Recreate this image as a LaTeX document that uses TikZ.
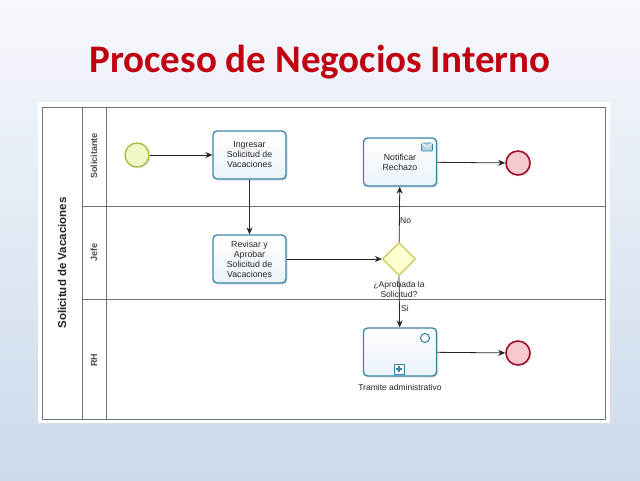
\documentclass[tikz,border=0pt]{standalone}
\usepackage{fontspec}
\setmainfont{Liberation Sans}
\newfontfamily\titlefont{Carlito}
\usetikzlibrary{shapes.geometric,arrows.meta,shadows}
\definecolor{titlered}{HTML}{C00010}
\definecolor{bgtop}{HTML}{F6F8FC}
\definecolor{bgbot}{HTML}{CCDAEB}
\definecolor{taskline}{HTML}{3C84A6}
\definecolor{taskfill}{HTML}{EAF3FA}
\definecolor{startline}{HTML}{A6BE3C}
\definecolor{startfill}{HTML}{F0F6C6}
\definecolor{endline}{HTML}{A0102A}
\definecolor{endfill}{HTML}{F6C9CE}
\definecolor{gwline}{HTML}{C8C85A}
\definecolor{gwfill}{HTML}{FFFFD2}
\definecolor{poolline}{HTML}{707070}
\tikzset{
  tasknode/.style={draw=taskline, line width=1.3pt, rounded corners=4pt, minimum width=73pt, minimum height=48pt,
    inner sep=1pt, align=center, font=\fontsize{8.8}{10}\selectfont, text=black!85,
    top color=white, bottom color=taskfill, drop shadow={shadow xshift=1.5pt, shadow yshift=-1.5pt, opacity=0.25}},
  startev/.style={circle, draw=startline, line width=1.3pt, minimum size=24pt, inner sep=0pt, fill=startfill,
    drop shadow={shadow xshift=1.5pt, shadow yshift=-1.5pt, opacity=0.2}},
  endev/.style={circle, draw=endline, line width=1.6pt, minimum size=24pt, inner sep=0pt, fill=endfill,
    drop shadow={shadow xshift=1.5pt, shadow yshift=-1.5pt, opacity=0.2}},
  gateway/.style={diamond, draw=gwline, line width=1.2pt, minimum size=33pt, inner sep=0pt, fill=gwfill},
  flow/.style={-{Stealth[length=7pt,width=6pt]}, line width=0.8pt, black!85},
  poolrule/.style={draw=poolline, line width=0.9pt},
  lanelabel/.style={rotate=90, font=\bfseries\fontsize{9}{11}\selectfont, text=black!70},
  smalllabel/.style={font=\fontsize{8.5}{10}\selectfont, text=black!85, inner sep=0pt},
}
\begin{document}
\begin{tikzpicture}[x=1pt, y=-1pt]
\useasboundingbox (0,0) rectangle (640,480);
\shade[top color=bgtop, bottom color=bgbot] (0,0) rectangle (640,480);
% title
\node (title) at (320,62) {\titlefont\bfseries\fontsize{39}{44}\selectfont\color{titlered}Proceso de Negocios Interno};
% white canvas
\fill[white] (38,102) rectangle (610,423);
% pool
\draw[poolrule] (42,107) rectangle (605,419);
\draw[poolrule] (82,107) -- (82,419);
\draw[poolrule] (106,107) -- (106,419);
\draw[poolrule] (82,206) -- (605,206);
\draw[poolrule] (82,299) -- (605,299);
\node[rotate=90, font=\bfseries\fontsize{11.5}{13}\selectfont, text=black!85] (pool) at (62,263) {Solicitud de Vacaciones};
\node[lanelabel] (l1) at (94,156) {Solicitante};
\node[lanelabel] (l2) at (94,252) {Jefe};
\node[lanelabel] (l3) at (94,360) {RH};
% nodes
\node[startev] (start) at (137,155) {};
\node[tasknode] (ingresar) at (249.5,155) {Ingresar\\Solicitud de\\Vacaciones};
\node[tasknode] (revisar) at (249.5,259) {Revisar y\\Aprobar\\Solicitud de\\Vacaciones};
\node[gateway] (gw) at (399,259) {};
\node[tasknode] (notificar) at (400,162) {Notificar\\Rechazo};
\node[tasknode] (tramite) at (400,352) {};
\node[endev] (end1) at (518,163) {};
\node[endev] (end2) at (518,353) {};
% icons
\node[draw=taskline, fill=taskline!35, line width=0.9pt, minimum width=11pt, minimum height=8pt, inner sep=0pt, rounded corners=1pt] (env) at (427,147) {};
\draw[white, line width=0.8pt] (env.north west) -- (env.center) -- (env.north east);
\node[circle, draw=taskline, line width=1.1pt, fill=white, minimum size=9pt, inner sep=0pt] (ring) at (425,338) {};
\node[draw=taskline, line width=0.9pt, fill=white, minimum size=10pt, inner sep=0pt] (plus) at (399,369) {};
\draw[taskline, line width=1.4pt] ([xshift=-3pt]plus.center) -- ([xshift=3pt]plus.center);
\draw[taskline, line width=1.4pt] ([yshift=-3pt]plus.center) -- ([yshift=3pt]plus.center);
% labels
\node[smalllabel] (tramlbl) at (400,387) {Tramite administrativo};
\node[smalllabel, align=center] (gwlbl) at (399,289) {¿Aprobada la\\Solicitud?};
% flows
\draw[flow] (start) -- (ingresar);
\draw[flow] (ingresar) -- (revisar);
\draw[flow] (revisar) -- (gw);
\draw[flow] (gw) -- (notificar);
\draw[flow] (gw.south) -- (tramite);
\draw[flow] (notificar) -- (end1);
\draw[flow] (tramite) -- (end2);
\node[smalllabel, anchor=west] (nolbl) at (400,221) {No};
\node[smalllabel, anchor=west] (silbl) at (401,308) {Si};
\end{tikzpicture}
\end{document}
